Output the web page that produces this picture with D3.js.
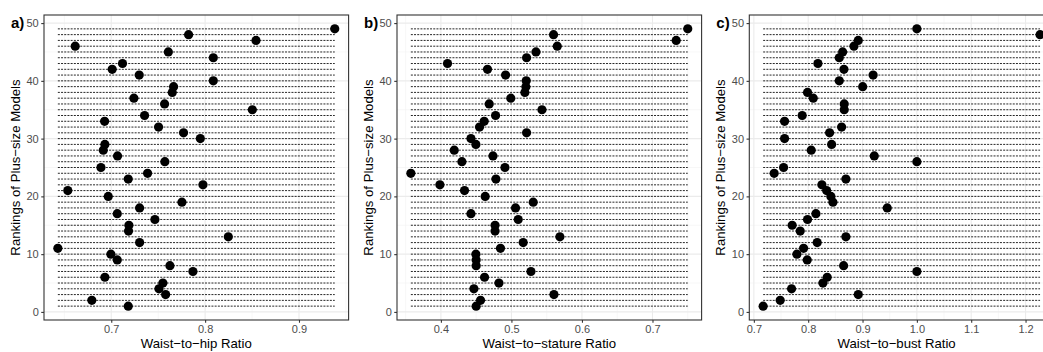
<!DOCTYPE html>
<html>
<head>
<meta charset="utf-8">
<script src="https://cdn.jsdelivr.net/npm/d3@7"></script>
<style>
  html, body { margin: 0; padding: 0; background: #fff; overflow: hidden; }
  svg { display: block; font-family: "Liberation Sans", Arial, sans-serif; }
</style>
</head>
<body>
<svg id="chart" width="1043" height="352"></svg>
<script>
// Rankings 1..49
const ranks = d3.range(1, 50);

// Waist-to-hip ratio, index i -> rank i+1
const waistToHip = [0.7181, 0.6793, 0.7579, 0.7508, 0.7550, 0.6932, 0.7870, 0.7625, 0.7064, 0.6996,
  0.6431, 0.7302, 0.8247, 0.7184, 0.7188, 0.7465, 0.7064, 0.7302, 0.7753, 0.6968,
  0.6537, 0.7977, 0.7181, 0.7387, 0.6890, 0.7571, 0.7067, 0.6915, 0.6932, 0.7949,
  0.7770, 0.7504, 0.6929, 0.7355, 0.8503, 0.7568, 0.7241, 0.7650, 0.7664, 0.8087,
  0.7298, 0.7010, 0.7120, 0.8087, 0.7608, 0.6616, 0.8542, 0.7824, 0.9381];

// Waist-to-stature ratio
const waistToStature = [0.4500, 0.4562, 0.5603, 0.4468, 0.4823, 0.4619, 0.5277, 0.4500, 0.4500, 0.4496,
  0.4845, 0.5167, 0.5687, 0.4768, 0.4768, 0.5096, 0.4426, 0.5058, 0.5309, 0.4628,
  0.4335, 0.3986, 0.4780, 0.3574, 0.4908, 0.4298, 0.4738, 0.4189, 0.4496, 0.4426,
  0.5215, 0.4548, 0.4614, 0.4775, 0.5433, 0.4685, 0.4991, 0.5191, 0.5205, 0.5210,
  0.4917, 0.4661, 0.4094, 0.5215, 0.5348, 0.5650, 0.7336, 0.5597, 0.7500];

// Waist-to-bust ratio
const waistToBust = [0.7171, 0.7485, 0.8921, 0.7694, 0.8271, 0.8350, 1.0000, 0.8652, 0.7982, 0.7792,
  0.7915, 0.8166, 0.8694, 0.7853, 0.7705, 0.7988, 0.8142, 0.9455, 0.8455, 0.8418,
  0.8339, 0.8252, 0.8694, 0.7374, 0.7547, 1.0000, 0.9216, 0.8056, 0.8431, 0.7565,
  0.8394, 0.8615, 0.7565, 0.7890, 0.8663, 0.8663, 0.8093, 0.7988, 0.9003, 0.8572,
  0.9195, 0.8658, 0.8179, 0.8572, 0.8634, 0.8842, 0.8921, 1.2267, 1.0000];

const yTicks = [0, 10, 20, 30, 40, 50];
const yMinor = [5, 15, 25, 35, 45];

const panelLabels = ["a)", "b)", "c)"];
const xTitles = ["Waist\u2212to\u2212hip Ratio", "Waist\u2212to\u2212stature Ratio", "Waist\u2212to\u2212bust Ratio"];
const yTitle = "Rankings of Plus\u2212size Models";
const xTickSets = [[0.7, 0.8, 0.9], [0.4, 0.5, 0.6, 0.7], [0.7, 0.8, 0.9, 1.0, 1.1, 1.2]];
const xMinorSets = [[0.65, 0.75, 0.85, 0.95], [0.35, 0.45, 0.55, 0.65, 0.75], [0.75, 0.85, 0.95, 1.05, 1.15, 1.25]];
const seriesList = [waistToHip, waistToStature, waistToBust];

const svg = d3.select("#chart");
const panelLefts = [44, 397, 749.3];
const panelW = 304.6;
const pTop = 15, pBottom = 320;

function expand(ext, f) {
  const span = ext[1] - ext[0];
  return [ext[0] - span * f, ext[1] + span * f];
}

seriesList.forEach((vals, p) => {
  const left = panelLefts[p];
  const g = svg.append("g");
  const xExt = d3.extent(vals);
  const x = d3.scaleLinear().domain(expand(xExt, 0.05)).range([left, left + panelW]);
  const y = d3.scaleLinear().domain(expand([1, 49], 0.05)).range([pBottom, pTop]);

  const clipId = "clip" + p;
  svg.append("defs").append("clipPath").attr("id", clipId)
    .append("rect").attr("x", left).attr("y", pTop).attr("width", panelW).attr("height", pBottom - pTop);

  const pg = g.append("g").attr("clip-path", `url(#${clipId})`);
  // minor grid
  pg.selectAll(".xminor").data(xMinorSets[p]).join("line")
    .attr("x1", d => x(d)).attr("x2", d => x(d)).attr("y1", pTop).attr("y2", pBottom)
    .attr("stroke", "#f2f2f2").attr("stroke-width", 0.6);
  pg.selectAll(".yminor").data(yMinor).join("line")
    .attr("y1", d => y(d)).attr("y2", d => y(d)).attr("x1", left).attr("x2", left + panelW)
    .attr("stroke", "#f2f2f2").attr("stroke-width", 0.6);
  // major grid
  pg.selectAll(".xmajor").data(xTickSets[p]).join("line")
    .attr("x1", d => x(d)).attr("x2", d => x(d)).attr("y1", pTop).attr("y2", pBottom)
    .attr("stroke", "#ebebeb").attr("stroke-width", 1.1);
  pg.selectAll(".ymajor").data(yTicks).join("line")
    .attr("y1", d => y(d)).attr("y2", d => y(d)).attr("x1", left).attr("x2", left + panelW)
    .attr("stroke", "#ebebeb").attr("stroke-width", 1.1);

  // dotted segments
  pg.selectAll(".seg").data(ranks).join("line")
    .attr("x1", x(xExt[0])).attr("x2", x(xExt[1]))
    .attr("y1", d => y(d)).attr("y2", d => y(d))
    .attr("stroke", "#000").attr("stroke-width", 0.85)
    .attr("stroke-dasharray", "2,1.2");

  // points
  pg.selectAll(".pt").data(vals).join("circle")
    .attr("cx", d => x(d)).attr("cy", (d, i) => y(ranks[i]))
    .attr("r", 4.6).attr("fill", "#000");

  // border
  g.append("rect").attr("x", left).attr("y", pTop).attr("width", panelW).attr("height", pBottom - pTop)
    .attr("fill", "none").attr("stroke", "#333333").attr("stroke-width", 1.1);

  // axes
  const xAxis = d3.axisBottom(x).tickValues(xTickSets[p]).tickSize(2.75).tickPadding(2.5)
    .tickFormat(d3.format(".1f"));
  const xa = g.append("g").attr("transform", `translate(0,${pBottom})`).call(xAxis);
  xa.select(".domain").remove();
  xa.selectAll(".tick line").attr("stroke", "#333333").attr("stroke-width", 1.1);
  xa.selectAll(".tick text").attr("fill", "#4d4d4d").style("font-size", "11px")
    .style("font-family", "'Liberation Sans', Arial, sans-serif");

  const yAxis = d3.axisLeft(y).tickValues(yTicks).tickSize(2.75).tickPadding(2.5);
  const ya = g.append("g").attr("transform", `translate(${left},0)`).call(yAxis);
  ya.select(".domain").remove();
  ya.selectAll(".tick line").attr("stroke", "#333333").attr("stroke-width", 1.1);
  ya.selectAll(".tick text").attr("fill", "#4d4d4d").style("font-size", "11px")
    .style("font-family", "'Liberation Sans', Arial, sans-serif");

  // titles
  g.append("text").attr("x", left + panelW / 2 - (p === 2 ? 5 : 0)).attr("y", 348)
    .attr("text-anchor", "middle").attr("fill", "#000").style("font-size", "13.2px")
    .text(xTitles[p]);
  g.append("text")
    .attr("transform", `translate(${left - 24},${(pTop + pBottom) / 2}) rotate(-90)`)
    .attr("text-anchor", "middle").attr("fill", "#000").style("font-size", "13.2px")
    .text(yTitle);
  g.append("text").attr("x", left - 33).attr("y", 28)
    .attr("fill", "#000").style("font-size", "15px").style("font-weight", "bold")
    .text(panelLabels[p]);
});
</script>
</body>
</html>
